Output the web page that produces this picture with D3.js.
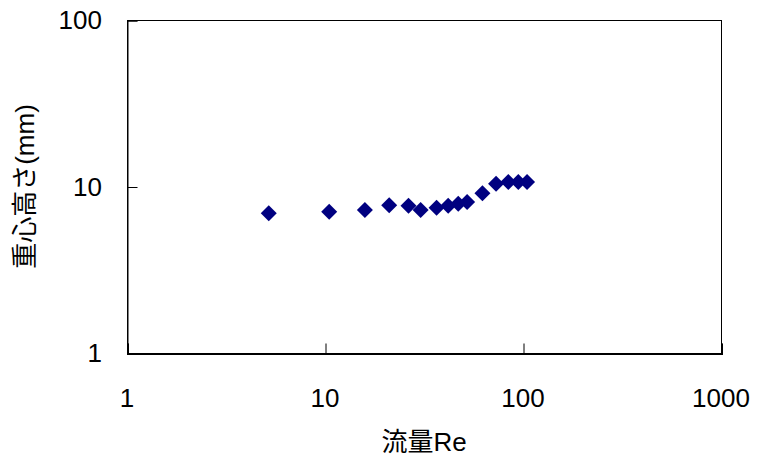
<!DOCTYPE html>
<html>
<head>
<meta charset="utf-8">
<script src="https://cdn.jsdelivr.net/npm/d3@7"></script>
<style>
  body { margin: 0; background: #fff; }
  text { font-family: "Liberation Sans", "Noto Sans CJK JP", sans-serif; }
</style>
</head>
<body>
<div id="chart"></div>
<script>
// flow rate Re vs centre-of-gravity height (mm)
const flowRe = [5.2, 10.5, 15.9, 21.1, 26.4, 30.4, 36.6, 41.9, 47.1, 52.2, 62.4, 73.1, 84.3, 94.7, 104.8];
const heightMm = [6.9, 7.06, 7.22, 7.71, 7.67, 7.22, 7.46, 7.67, 7.88, 8.07, 9.1, 10.4, 10.64, 10.64, 10.64];
const xTicks = [1, 10, 100, 1000];
const yTicks = [1, 10, 100];
const xTitle = '流量Re';
const yTitle = '重心高さ(mm)';

const w = 758, h = 460;
const pL = 127, pR = 721, pT = 20, pB = 353;

const svg = d3.select('#chart').append('svg')
  .attr('width', w)
  .attr('height', h);

const x = d3.scaleLog().domain([1, 1000]).range([pL, pR]);
const y = d3.scaleLog().domain([1, 100]).range([pB, pT]);

// plot box
svg.append('rect')
  .attr('x', pL + 0.5).attr('y', pT + 0.5)
  .attr('width', pR - pL).attr('height', pB - pT)
  .attr('fill', 'none').attr('stroke', '#000').attr('stroke-width', 1);

const xAxis = d3.axisTop(x).tickValues(xTicks).tickSize(10).tickFormat('');
const yAxis = d3.axisRight(y).tickValues(yTicks).tickSize(10).tickFormat('');

svg.append('g')
  .attr('transform', `translate(0.5,${pB + 0.5})`)
  .call(xAxis)
  .call(g => g.select('.domain').attr('stroke-width', 2));

svg.append('g')
  .attr('transform', `translate(${pL + 0.5},0.5)`)
  .call(yAxis)
  .call(g => g.select('.domain').attr('stroke-width', 1));

// tick labels
svg.append('g').selectAll('text')
  .data(xTicks)
  .enter().append('text')
  .attr('x', d => x(d))
  .attr('y', 407)
  .attr('text-anchor', 'middle')
  .attr('font-size', 26)
  .text(d => d);

svg.append('g').selectAll('text')
  .data(yTicks)
  .enter().append('text')
  .attr('x', 102)
  .attr('y', d => y(d) + 9)
  .attr('text-anchor', 'end')
  .attr('font-size', 26)
  .text(d => d);

// axis titles
svg.append('text')
  .attr('x', (pL + pR) / 2)
  .attr('y', 451)
  .attr('text-anchor', 'middle')
  .attr('font-size', 26)
  .text(xTitle);

svg.append('text')
  .attr('transform', `translate(34,${(pT + pB) / 2}) rotate(-90)`)
  .attr('text-anchor', 'middle')
  .attr('font-size', 26)
  .text(yTitle);

// diamonds
svg.append('g').selectAll('path')
  .data(flowRe)
  .enter().append('path')
  .attr('transform', (d, i) => `translate(${x(d)},${y(heightMm[i])})`)
  .attr('d', 'M0,-8L8,0L0,8L-8,0Z')
  .attr('fill', '#000080');
</script>
</body>
</html>
